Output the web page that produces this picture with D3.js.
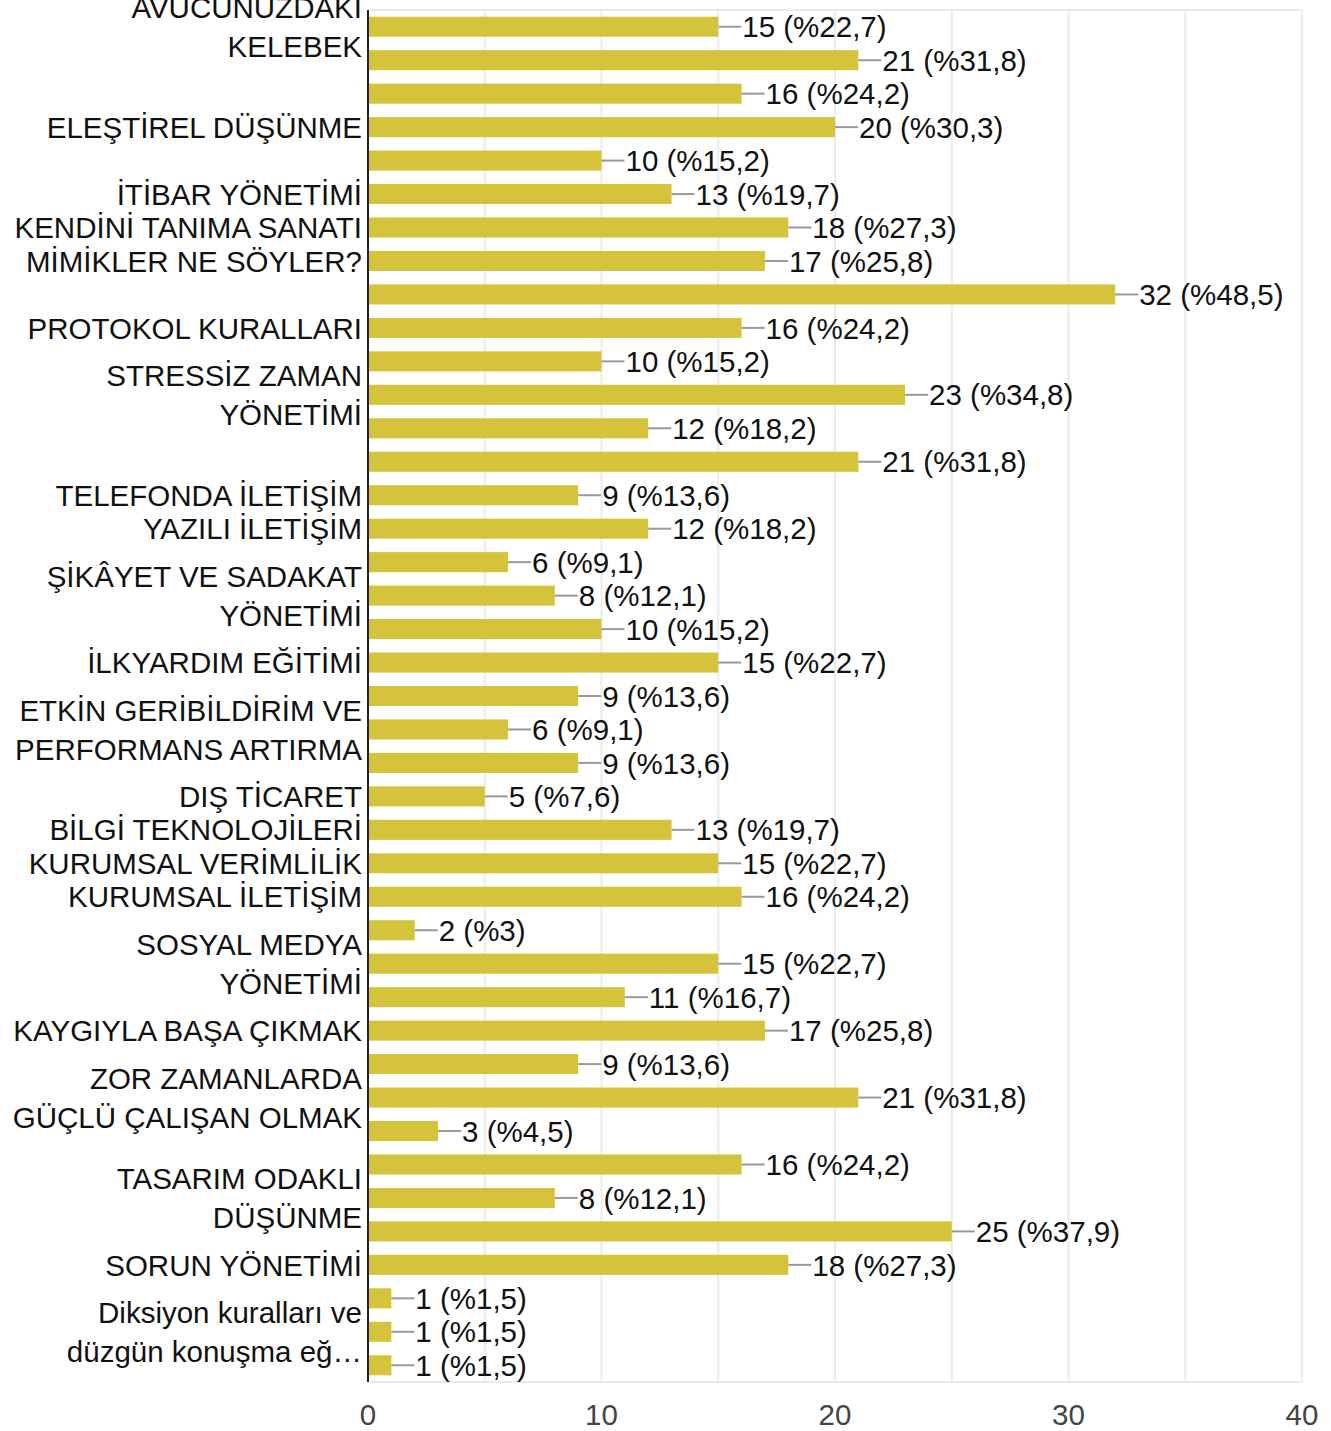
<!DOCTYPE html>
<html>
<head>
<meta charset="utf-8">
<script src="https://cdn.jsdelivr.net/npm/d3@7"></script>
<style>
  body { margin: 0; background: #fff; }
  svg { display: block; font-family: "Liberation Sans", Arial, sans-serif; }
</style>
</head>
<body>
<div id="chart"></div>
<script>
// counts per bar, top to bottom
const counts = [15, 21, 16, 20, 10, 13, 18, 17, 32, 16, 10, 23, 12, 21, 9, 12, 6, 8, 10, 15,
  9, 6, 9, 5, 13, 15, 16, 2, 15, 11, 17, 9, 21, 3, 16, 8, 25, 18, 1, 1, 1];

const percents = ["22,7", "31,8", "24,2", "30,3", "15,2", "19,7", "27,3", "25,8", "48,5", "24,2",
  "15,2", "34,8", "18,2", "31,8", "13,6", "18,2", "9,1", "12,1", "15,2", "22,7",
  "13,6", "9,1", "13,6", "7,6", "19,7", "22,7", "24,2", "3", "22,7", "16,7",
  "25,8", "13,6", "31,8", "4,5", "24,2", "12,1", "37,9", "27,3", "1,5", "1,5", "1,5"];

// visible category labels (bar index -> lines); other bars have no shown label
const categoryLabels = [
  [0, ["AVUCUNUZDAKİ", "KELEBEK"]],
  [3, ["ELEŞTİREL DÜŞÜNME"]],
  [5, ["İTİBAR YÖNETİMİ"]],
  [6, ["KENDİNİ TANIMA SANATI"]],
  [7, ["MİMİKLER NE SÖYLER?"]],
  [9, ["PROTOKOL KURALLARI"]],
  [11, ["STRESSİZ ZAMAN", "YÖNETİMİ"]],
  [14, ["TELEFONDA İLETİŞİM"]],
  [15, ["YAZILI İLETİŞİM"]],
  [17, ["ŞİKÂYET VE SADAKAT", "YÖNETİMİ"]],
  [19, ["İLKYARDIM EĞİTİMİ"]],
  [21, ["ETKİN GERİBİLDİRİM VE", "PERFORMANS ARTIRMA"]],
  [23, ["DIŞ TİCARET"]],
  [24, ["BİLGİ TEKNOLOJİLERİ"]],
  [25, ["KURUMSAL VERİMLİLİK"]],
  [26, ["KURUMSAL İLETİŞİM"]],
  [28, ["SOSYAL MEDYA", "YÖNETİMİ"]],
  [30, ["KAYGIYLA BAŞA ÇIKMAK"]],
  [32, ["ZOR ZAMANLARDA", "GÜÇLÜ ÇALIŞAN OLMAK"]],
  [35, ["TASARIM ODAKLI", "DÜŞÜNME"]],
  [37, ["SORUN YÖNETİMİ"]],
  [39, ["Diksiyon kuralları ve", "düzgün konuşma eğ…"]]
];

const xTicks = [0, 10, 20, 30, 40];
const xGrid = [5, 10, 15, 20, 25, 30, 35, 40];

const width = 1331, height = 1431;
const margin = {top: 10, right: 29, bottom: 49, left: 368};
const fontSize = 29.5;

const svg = d3.select("#chart").append("svg")
  .attr("width", width)
  .attr("height", height);

const x = d3.scaleLinear()
  .domain([0, 40])
  .range([margin.left, width - margin.right]);

const y = d3.scaleBand()
  .domain(d3.range(counts.length))
  .range([margin.top, height - margin.bottom])
  .paddingInner(0.4)
  .paddingOuter(0.2);

// gridlines
svg.append("g")
  .selectAll("line")
  .data(xGrid)
  .join("line")
    .attr("x1", d => x(d)).attr("x2", d => x(d))
    .attr("y1", margin.top).attr("y2", height - margin.bottom)
    .attr("stroke", "#ebebeb")
    .attr("stroke-width", 2);

// frame top / bottom
svg.append("g")
  .selectAll("line")
  .data([margin.top, height - margin.bottom])
  .join("line")
    .attr("x1", margin.left).attr("x2", x(40))
    .attr("y1", d => d).attr("y2", d => d)
    .attr("stroke", "#ebebeb")
    .attr("stroke-width", 2);

// bars
svg.append("g")
  .selectAll("rect")
  .data(counts)
  .join("rect")
    .attr("x", x(0))
    .attr("y", (d, i) => y(i))
    .attr("width", d => x(d) - x(0))
    .attr("height", y.bandwidth())
    .attr("fill", "#d5c43b");

// leader lines + value labels
const ann = svg.append("g")
  .selectAll("g")
  .data(counts)
  .join("g")
    .attr("transform", (d, i) => `translate(${x(d)},${y(i) + y.bandwidth() / 2})`);

ann.append("line")
  .attr("x1", 0).attr("x2", 23)
  .attr("stroke", "#999")
  .attr("stroke-width", 2);

ann.append("text")
  .attr("x", 24)
  .attr("dy", "0.36em")
  .attr("font-size", fontSize)
  .attr("fill", "#111")
  .text((d, i) => `${d} (%${percents[i]})`);

// y axis line
svg.append("line")
  .attr("x1", x(0)).attr("x2", x(0))
  .attr("y1", margin.top).attr("y2", height - margin.bottom)
  .attr("stroke", "#222")
  .attr("stroke-width", 2);

// category labels
const lineGap = 39;
const cat = svg.append("g")
  .attr("text-anchor", "end")
  .attr("font-size", fontSize)
  .attr("fill", "#111")
  .selectAll("text")
  .data(categoryLabels)
  .join("text")
    .attr("transform", d => `translate(${x(0) - 6},${y(d[0]) + y.bandwidth() / 2})`);

cat.selectAll("tspan")
  .data(d => d[1].map((t, k) => ({t, k, n: d[1].length})))
  .join("tspan")
    .attr("x", 0)
    .attr("y", d => (d.k - (d.n - 1) / 2) * lineGap)
    .attr("dy", "0.36em")
    .text(d => d.t);

// x tick labels
svg.append("g")
  .attr("text-anchor", "middle")
  .attr("font-size", fontSize)
  .attr("fill", "#444")
  .selectAll("text")
  .data(xTicks)
  .join("text")
    .attr("x", d => x(d))
    .attr("y", 1425)
    .text(d => d);
</script>
</body>
</html>
